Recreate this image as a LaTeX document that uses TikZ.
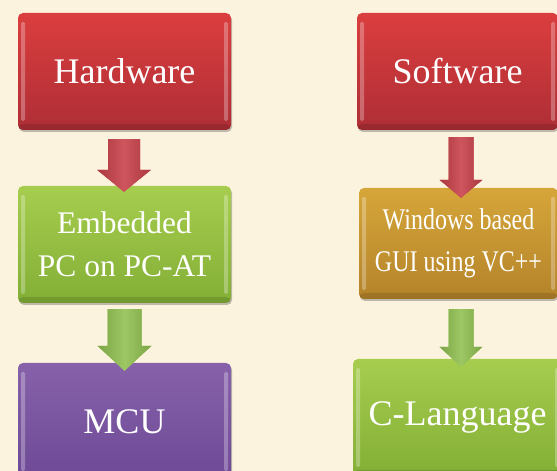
\documentclass[tikz,border=0pt]{standalone}
\usepackage{fontspec}
\setmainfont{Liberation Serif}
\usetikzlibrary{calc,shadows}
\definecolor{bgc}{HTML}{FCF3DE}
\definecolor{redT}{HTML}{DB3E3E}
\definecolor{redB}{HTML}{AE2E36}
\definecolor{grnT}{HTML}{A6CD4E}
\definecolor{grnB}{HTML}{83AF36}
\definecolor{purT}{HTML}{8762AA}
\definecolor{purB}{HTML}{6D4996}
\definecolor{golT}{HTML}{D6A63A}
\definecolor{golB}{HTML}{B4832A}
\definecolor{arrR}{HTML}{C9424B}
\definecolor{arrG}{HTML}{92C152}
\tikzset{
  boxbase/.style={minimum width=213pt, minimum height=117pt, rounded corners=5pt,
    inner sep=0pt, align=center, text=white,
    drop shadow={shadow xshift=1pt, shadow yshift=-2pt, opacity=0.35, fill=black!70},
    path picture={
      \fill[white,opacity=0.28,rounded corners=1.5pt]
        ([xshift=3pt,yshift=-9pt]path picture bounding box.north west) rectangle
        ([xshift=7pt,yshift=9pt]path picture bounding box.south west);
      \fill[white,opacity=0.28,rounded corners=1.5pt]
        ([xshift=-3pt,yshift=-9pt]path picture bounding box.north east) rectangle
        ([xshift=-7pt,yshift=9pt]path picture bounding box.south east);
      \fill[black,opacity=0.12]
        ([yshift=6pt]path picture bounding box.south west) rectangle
        (path picture bounding box.south east);
    }},
  redbox/.style={boxbase, top color=redT, bottom color=redB},
  grnbox/.style={boxbase, top color=grnT, bottom color=grnB},
  purbox/.style={boxbase, top color=purT, bottom color=purB},
  golbox/.style={boxbase, top color=golT, bottom color=golB},
  bigtxt/.style={font=\fontsize{36}{42}\selectfont},
  midtxt/.style={font=\fontsize{31.5}{43}\selectfont},
}
% block arrow: start, end, shaft half width, head half width, head length, colour
\newcommand{\blockarr}[6]{%
  \path let \p1=(#1), \p2=(#2) in
    [fill=#6, left color=#6!85!black, right color=#6!85!black, middle color=#6!90!white]
    (\x1-#3,\y1) -- (\x1+#3,\y1) -- (\x1+#3,\y2+#5) -- (\x1+#4,\y2+#5) --
    (\x1,\y2) -- (\x1-#4,\y2+#5) -- (\x1-#3,\y2+#5) -- cycle;}
\begin{document}
\begin{tikzpicture}[x=1pt,y=1pt]
\useasboundingbox (0,0) rectangle (557,471);
\fill[bgc] (0,0) rectangle (557,471);
\clip (0,0) rectangle (557,471);
% left column
\node[redbox, bigtxt] (hw)  at (124.5,399.5) {Hardware};
\node[grnbox, midtxt] (emb) at (124.5,226.5) {Embedded\\PC on PC-AT};
\node[purbox, bigtxt] (mcu) at (124.5,49.5) {MCU};
% right column
\node[redbox, bigtxt, minimum width=201pt] (sw) at (457.5,399.5) {Software};
\node[golbox, minimum width=199pt, minimum height=111pt, font=\fontsize{30}{42}\selectfont] (win) at (458.5,227.5)
  {\scalebox{0.8}[1]{Windows based}\\\scalebox{0.8}[1]{GUI using VC++}};
\node[grnbox, bigtxt, minimum width=209pt] (cl) at (457.5,53.5) {C-Language};
% arrow end points
\coordinate (a1s) at ($(hw.south)+(-0.5,-9)$);
\coordinate (a1e) at ($(emb.north)+(-0.5,-6)$);
\coordinate (a2s) at ($(emb.south)+(0,-6)$);
\coordinate (a2e) at ($(mcu.north)+(0,-8)$);
\coordinate (a3s) at ($(sw.south)+(3.5,-7)$);
\coordinate (a3e) at ($(win.north)+(2.5,-10)$);
\coordinate (a4s) at ($(win.south)+(2.5,-10)$);
\coordinate (a4e) at ($(cl.north)+(3.5,-8)$);
\blockarr{a1s}{a1e}{16}{27}{22}{arrR}
\blockarr{a2s}{a2e}{17}{27}{25}{arrG}
\blockarr{a3s}{a3e}{12.5}{21.5}{18}{arrR}
\blockarr{a4s}{a4e}{12.5}{21.5}{20}{arrG}
\end{tikzpicture}
\end{document}
